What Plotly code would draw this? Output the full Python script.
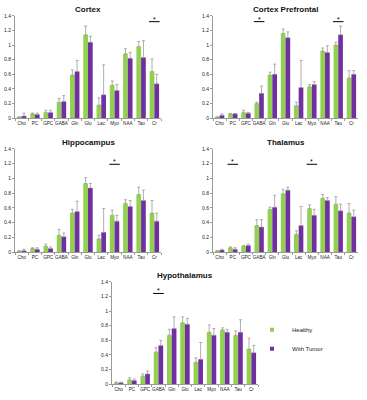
import plotly.graph_objects as go

categories = ["Cho", "PC", "GPC", "GABA", "Gln", "Glu", "Lac", "Myo", "NAA", "Tau", "Cr"]
tick_vals = [0, 0.2, 0.4, 0.6, 0.8, 1.0, 1.2, 1.4]
tick_text = ["0", "0.2", "0.4", "0.6", "0.8", "1", "1.2", "1.4"]

region_names = ["Cortex", "Cortex Prefrontal", "Hippocampus", "Thalamus", "Hypothalamus"]
group_names = ["Healthy", "With Tumor"]

cortex_healthy = [0.01, 0.06, 0.08, 0.22, 0.59, 1.14, 0.18, 0.45, 0.88, 0.98, 0.64]
cortex_healthy_top = [0.02, 0.07, 0.11, 0.27, 0.66, 1.26, 0.28, 0.51, 0.95, 1.05, 0.81]
cortex_tumor = [0.03, 0.05, 0.08, 0.23, 0.64, 1.04, 0.32, 0.38, 0.82, 0.83, 0.47]
cortex_tumor_top = [0.07, 0.07, 0.11, 0.31, 0.79, 1.12, 0.73, 0.46, 0.90, 1.06, 0.60]

prefrontal_healthy = [0.01, 0.06, 0.08, 0.20, 0.59, 1.16, 0.17, 0.43, 0.92, 1.00, 0.55]
prefrontal_healthy_top = [0.02, 0.065, 0.11, 0.22, 0.63, 1.22, 0.22, 0.46, 0.96, 1.04, 0.65]
prefrontal_tumor = [0.04, 0.06, 0.07, 0.34, 0.60, 1.10, 0.42, 0.46, 0.90, 1.14, 0.60]
prefrontal_tumor_top = [0.06, 0.065, 0.08, 0.44, 0.74, 1.18, 0.79, 0.50, 0.99, 1.26, 0.65]

hippo_healthy = [0.01, 0.05, 0.08, 0.23, 0.53, 0.93, 0.18, 0.50, 0.66, 0.78, 0.53]
hippo_healthy_top = [0.02, 0.06, 0.11, 0.31, 0.58, 1.01, 0.23, 0.57, 0.71, 0.88, 0.70]
hippo_tumor = [0.02, 0.04, 0.05, 0.21, 0.55, 0.87, 0.27, 0.42, 0.62, 0.70, 0.42]
hippo_tumor_top = [0.04, 0.06, 0.07, 0.26, 0.69, 0.93, 0.59, 0.50, 0.70, 0.84, 0.53]

thal_healthy = [0.02, 0.06, 0.08, 0.36, 0.58, 0.79, 0.24, 0.59, 0.73, 0.65, 0.53]
thal_healthy_top = [0.02, 0.07, 0.09, 0.44, 0.61, 0.85, 0.29, 0.64, 0.78, 0.75, 0.66]
thal_tumor = [0.03, 0.04, 0.09, 0.34, 0.61, 0.84, 0.36, 0.50, 0.70, 0.56, 0.48]
thal_tumor_top = [0.04, 0.06, 0.11, 0.44, 0.77, 0.88, 0.62, 0.58, 0.74, 0.65, 0.57]

hypo_healthy = [0.02, 0.06, 0.11, 0.44, 0.67, 0.84, 0.30, 0.71, 0.74, 0.67, 0.48]
hypo_healthy_top = [0.03, 0.09, 0.14, 0.50, 0.75, 0.92, 0.36, 0.81, 0.77, 0.73, 0.63]
hypo_tumor = [0.02, 0.05, 0.14, 0.53, 0.76, 0.82, 0.34, 0.67, 0.71, 0.71, 0.43]
hypo_tumor_top = [0.03, 0.07, 0.18, 0.60, 0.92, 0.90, 0.57, 0.76, 0.75, 0.88, 0.53]

sig_cats = [["Cr"], ["GABA", "Tau"], ["Myo"], ["PC", "Myo"], ["GABA"]]
sig_levels = [1.32, 1.32, 1.19, 1.19, 1.24]

panels = [
    (cortex_healthy, cortex_healthy_top, cortex_tumor, cortex_tumor_top),
    (prefrontal_healthy, prefrontal_healthy_top, prefrontal_tumor, prefrontal_tumor_top),
    (hippo_healthy, hippo_healthy_top, hippo_tumor, hippo_tumor_top),
    (thal_healthy, thal_healthy_top, thal_tumor, thal_tumor_top),
    (hypo_healthy, hypo_healthy_top, hypo_tumor, hypo_tumor_top),
]

W, H = 367, 400
# pixel boxes: (left, right, top, bottom)
boxes = [(15, 161, 13, 117), (213, 358, 13, 117), (15, 161, 148, 253),
         (213, 358, 148, 253), (112, 258, 283, 387)]

GREEN = "#92D050"
PURPLE = "#7030A0"
FONT = "Liberation Sans"
colors = [GREEN, PURPLE]

fig = go.Figure()
layout = dict(width=W, height=H, margin=dict(l=0, r=0, t=0, b=0),
              paper_bgcolor="white", plot_bgcolor="white",
              barmode="group", bargap=0.29, bargroupgap=0,
              font=dict(family=FONT, size=6, color="#222"),
              shapes=[], annotations=[])

for i, (hv, ht, tv, tt) in enumerate(panels):
    n = i + 1
    xa = "x" if n == 1 else f"x{n}"
    ya = "y" if n == 1 else f"y{n}"
    for name, vals, tops, col in ((group_names[0], hv, ht, GREEN), (group_names[1], tv, tt, PURPLE)):
        fig.add_trace(go.Bar(
            x=categories, y=vals, name=name, marker=dict(color=col, line=dict(width=0)),
            error_y=dict(type="data", symmetric=False,
                         array=[t - v for t, v in zip(tops, vals)],
                         arrayminus=[0] * len(vals), color="#9a9a9a", thickness=0.8, width=1.5),
            xaxis=xa, yaxis=ya, showlegend=False, legendgroup=name,
        ))
    l, r, t, b = boxes[i]
    xk = "xaxis" if n == 1 else f"xaxis{n}"
    yk = "yaxis" if n == 1 else f"yaxis{n}"
    layout[xk] = dict(domain=[l / W, r / W], anchor=ya, showline=True, linecolor="#9a9a9a",
                      linewidth=1, ticks="outside", tickson="boundaries", ticklen=2,
                      tickcolor="#9a9a9a", tickangle=0,
                      tickfont=dict(size=4.6, color="#222"),
                      showgrid=False, fixedrange=True)
    layout[yk] = dict(domain=[1 - b / H, 1 - t / H], anchor=xa, range=[0, 1.4],
                      tickvals=tick_vals, ticktext=tick_text, showline=True,
                      linecolor="#9a9a9a", linewidth=1, ticks="outside", ticklen=2,
                      tickcolor="#9a9a9a", tickfont=dict(size=5, color="#222"),
                      showgrid=False, zeroline=False)
    layout["annotations"].append(dict(
        text=f"<b>{region_names[i]}</b>", x=(l + r) / 2 / W, y=1 - (t - 6) / H,
        xref="paper", yref="paper", showarrow=False, xanchor="center", yanchor="middle",
        font=dict(size=8, color="#111", family=FONT)))
    for c in sig_cats[i]:
        idx = categories.index(c)
        lvl = sig_levels[i]
        layout["shapes"].append(dict(type="line", xref=xa, yref=ya, x0=idx - 0.4, x1=idx + 0.4,
                                     y0=lvl, y1=lvl, line=dict(color="black", width=1)))
        layout["annotations"].append(dict(text="*", x=idx, y=lvl, xref=xa, yref=ya,
                                          showarrow=False, yanchor="bottom", yshift=-3,
                                          font=dict(size=7, color="black")))

# legend entries (square markers)
for name, col in zip(group_names, colors):
    fig.add_trace(go.Scatter(x=[None], y=[None], mode="markers", name=name,
                             marker=dict(symbol="square", size=4, color=col),
                             xaxis="x5", yaxis="y5", showlegend=True, legendgroup=name))

layout["legend"] = dict(x=252 / W, y=1 - 317 / H, xanchor="left", yanchor="top",
                        font=dict(size=6, color="#222"), tracegroupgap=0,
                        bgcolor="rgba(0,0,0,0)", itemwidth=30)
fig.update_layout(**layout)
fig.write_html("out.html", config={"displayModeBar": False},
               post_script="document.body.style.margin='0';")
